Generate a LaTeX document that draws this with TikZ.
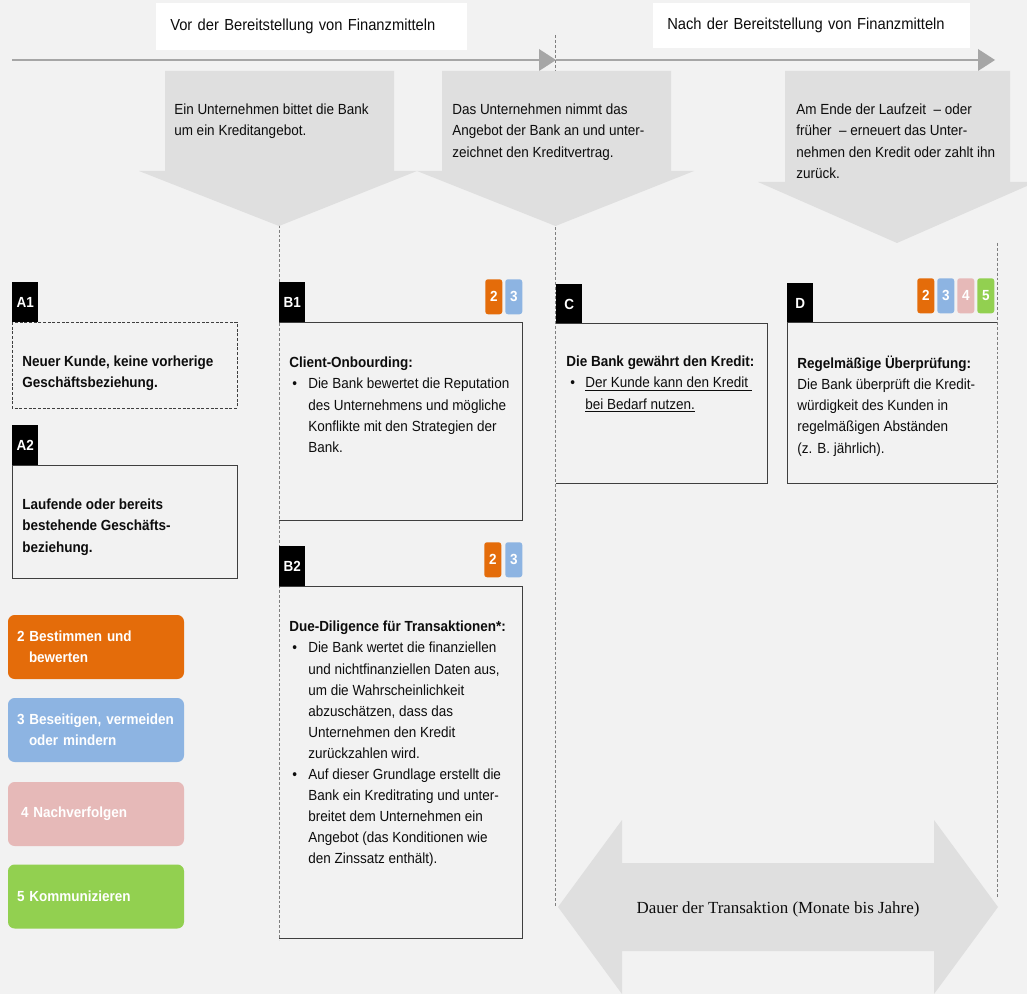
\documentclass[tikz,border=0pt]{standalone}
\usepackage{fontspec}
\newfontfamily\sansf{Liberation Sans}[FakeStretch=0.92]
\newfontfamily\seriff{Liberation Serif}
\definecolor{bgc}{HTML}{F2F2F2}
\definecolor{arrc}{HTML}{DFDFDF}
\definecolor{tlc}{HTML}{A6A6A6}
\definecolor{dashc}{HTML}{7F7F7F}
\definecolor{bordc}{HTML}{3F3F3F}
\definecolor{orangec}{HTML}{E46C0A}
\definecolor{bluec}{HTML}{8DB4E2}
\definecolor{pinkc}{HTML}{E6B9B8}
\definecolor{greenc}{HTML}{92D050}
\definecolor{txtc}{HTML}{0D0D0D}
\newcommand\bulx{\hspace*{2.25pt}\makebox[12pt][l]{\textbullet}}
\newcommand\indx{\hspace*{14.25pt}}
\newcommand\bulc{\hspace*{3pt}\makebox[11.25pt][l]{\textbullet}}
\newcommand\indc{\hspace*{14.25pt}}
\begin{document}
\begin{tikzpicture}[x=0.75pt,y=-0.75pt,
  txt/.style={anchor=north west, inner sep=0pt, align=left, text=txtc,
    font=\sansf\fontsize{11pt}{15.8pt}\selectfont},
  txtb/.style={txt, font=\sansf\bfseries\fontsize{11pt}{15.8pt}\selectfont},
  toplab/.style={fill=white, anchor=north west, inner ysep=0pt, inner xsep=14*0.75pt,
    align=left, text=txtc, font=\sansf\fontsize{12pt}{14pt}\selectfont},
  labtag/.style={fill=black, text=white, inner sep=0pt, anchor=north west,
    minimum width=26*0.75pt, minimum height=40*0.75pt,
    font=\sansf\bfseries\fontsize{11pt}{12pt}\selectfont},
  badge/.style={rounded corners=2pt, text=white, inner sep=0pt, anchor=north west,
    minimum width=17*0.75pt, minimum height=35*0.75pt,
    font=\sansf\bfseries\fontsize{11pt}{12pt}\selectfont},
  leg/.style={rounded corners=5pt, text=white, align=left, inner ysep=0pt,
    inner xsep=9*0.75pt, text width=158*0.75pt,
    minimum width=176*0.75pt, minimum height=64*0.75pt,
    font=\sansf\bfseries\fontsize{11pt}{15.8pt}\selectfont},
  vdash/.style={draw=dashc, line width=0.6pt, dash pattern=on 2.2pt off 1.5pt},
  bord/.style={draw=bordc, line width=0.7pt},
  arrshape/.style={fill=arrc},
  tline/.style={draw=tlc, line width=0.9pt}
]
\useasboundingbox (0,0) rectangle (1027,994);
\fill[bgc] (0,0) rectangle (1027,994);

% coordinates
\coordinate (tl0) at (12,60);
\coordinate (tl1) at (541,60);
\coordinate (tl2) at (556,60);
\coordinate (tl3) at (980,60);
\coordinate (v1a) at (279,200);
\coordinate (v1b) at (279,940);
\coordinate (v2a) at (555.5,35);
\coordinate (v2b) at (555.5,907);
\coordinate (v3a) at (997,243);
\coordinate (v3b) at (997,897);

% dashed vertical lines
\draw[vdash] (v1a) -- (v1b);
\draw[vdash] (v2a) -- (v2b);
\draw[vdash] (v3a) -- (v3b);

% timeline
\draw[tline] (tl0) -- (tl1);
\fill[tlc] (539,49) -- (556,60) -- (539,71) -- cycle;
\draw[tline] (tl2) -- (tl3);
\fill[tlc] (978,49) -- (995,60) -- (978,71) -- cycle;

% top labels
\node[toplab, minimum width=311*0.75pt, minimum height=47*0.75pt, text width=283*0.75pt] (topL) at (156,3) {Vor der Bereitstellung von Finanzmitteln};
\node[toplab, minimum width=317*0.75pt, minimum height=45*0.75pt, text width=289*0.75pt] (topR) at (653,3) {Nach der Bereitstellung von Finanzmitteln};

% down arrows
\fill[arrshape] (165,71) -- (394,71) -- (394,171) -- (417,171) -- (279,226) -- (139,171) -- (165,171) -- cycle;
\fill[arrshape] (442,71) -- (671,71) -- (671,171) -- (694,171) -- (555.5,226) -- (417,171) -- (442,171) -- cycle;
\fill[arrshape] (785,71) -- (1010,71) -- (1010,182) -- (1036,182) -- (897,243) -- (758,182) -- (785,182) -- cycle;

\node[txt] (ar1) at (174,104) {Ein Unternehmen bittet die Bank\\um ein Kreditangebot.};
\node[txt] (ar2) at (452,104) {Das Unternehmen nimmt das\\Angebot der Bank an und unter-\\zeichnet den Kreditvertrag.};
\node[txt] (ar3) at (796,104) {Am Ende der Laufzeit \ – oder\\früher \ – erneuert das Unter-\\nehmen den Kredit oder zahlt ihn\\zurück.};

% A1
\node[labtag] (A1t) at (12,282) {A1};
\draw[bord, dash pattern=on 2.2pt off 1.3pt] (12,322) rectangle (237,408);
\node[txtb] (A1x) at (22,356) {Neuer Kunde, keine vorherige\\Geschäftsbeziehung.};
% A2
\node[labtag] (A2t) at (12,425) {A2};
\draw[bord] (12,465) rectangle (237,578);
\node[txtb] (A2x) at (22,499) {Laufende oder bereits\\bestehende Geschäfts-\\beziehung.};

% B1
\node[labtag] (B1t) at (279,282) {B1};
\draw[bord] (279,322) -- (522,322) -- (522,520) -- (279,520);
\node[badge, fill=orangec] (B1b2) at (485,279) {2};
\node[badge, fill=bluec] (B1b3) at (505,279) {3};
\node[txt] (B1x) at (289,357) {{\bfseries Client-Onbourding:}\\
\bulx Die Bank bewertet die Reputation\\
\indx des Unternehmens und mögliche\\
\indx Konflikte mit den Strategien der\\
\indx Bank.};

% B2
\node[labtag] (B2t) at (279,546) {B2};
\draw[bord] (279,586) -- (522,586) -- (522,938) -- (279,938);
\node[badge, fill=orangec] (B2b2) at (484,542) {2};
\node[badge, fill=bluec] (B2b3) at (505,542) {3};
\node[txt] (B2x) at (289,621) {{\bfseries Due-Diligence für Transaktionen*:}\\
\bulx Die Bank wertet die finanziellen\\
\indx und nichtfinanziellen Daten aus,\\
\indx um die Wahrscheinlichkeit\\
\indx abzuschätzen, dass das\\
\indx Unternehmen den Kredit\\
\indx zurückzahlen wird.\\
\bulx Auf dieser Grundlage erstellt die\\
\indx Bank ein Kreditrating und unter-\\
\indx breitet dem Unternehmen ein\\
\indx Angebot (das Konditionen wie\\
\indx den Zinssatz enthält).};

% C
\node[labtag] (Ct) at (556,284) {C};
\draw[bord] (556,323) -- (767,323) -- (767,483) -- (556,483);
\node[txt] (Cx) at (566,356) {{\bfseries Die Bank gewährt den Kredit:}\\
\bulc \underline{Der Kunde kann den Kredit\ }\\
\indc \underline{bei Bedarf nutzen.}};

% D
\node[labtag] (Dt) at (787,283) {D};
\draw[bord] (997,322) -- (787,322) -- (787,483) -- (997,483);
\node[badge, fill=orangec] (Db2) at (917,278) {2};
\node[badge, fill=bluec] (Db3) at (937,278) {3};
\node[badge, fill=pinkc] (Db4) at (957,278) {4};
\node[badge, fill=greenc] (Db5) at (977,278) {5};
\node[txt] (Dx) at (797,356) {{\bfseries Regelmäßige Überprüfung:}\\
Die Bank überprüft die Kredit-\\
würdigkeit des Kunden in\\
regelmäßigen Abständen\\
(z. B. jährlich).};

% legend
\node[leg, fill=orangec] (L2) at (96,647) {2 Bestimmen und\\\hspace*{9pt}bewerten};
\node[leg, fill=bluec] (L3) at (96,730) {3 Beseitigen, vermeiden\\\hspace*{9pt}oder mindern};
\node[leg, fill=pinkc] (L4) at (96,814) {\hspace*{3pt}4 Nachverfolgen};
\node[leg, fill=greenc] (L5) at (96,896.5) {5 Kommunizieren};

% duration double arrow
\fill[arrshape] (558,907) -- (622,820) -- (622,863) -- (934,863) -- (934,820) -- (998,907)
  -- (934,994) -- (934,951) -- (622,951) -- (622,994) -- cycle;
\node[inner sep=0pt, text=txtc, font=\seriff\fontsize{12.7pt}{14pt}\selectfont] (dur) at (778,909) {Dauer der Transaktion (Monate bis Jahre)};
\end{tikzpicture}
\end{document}
